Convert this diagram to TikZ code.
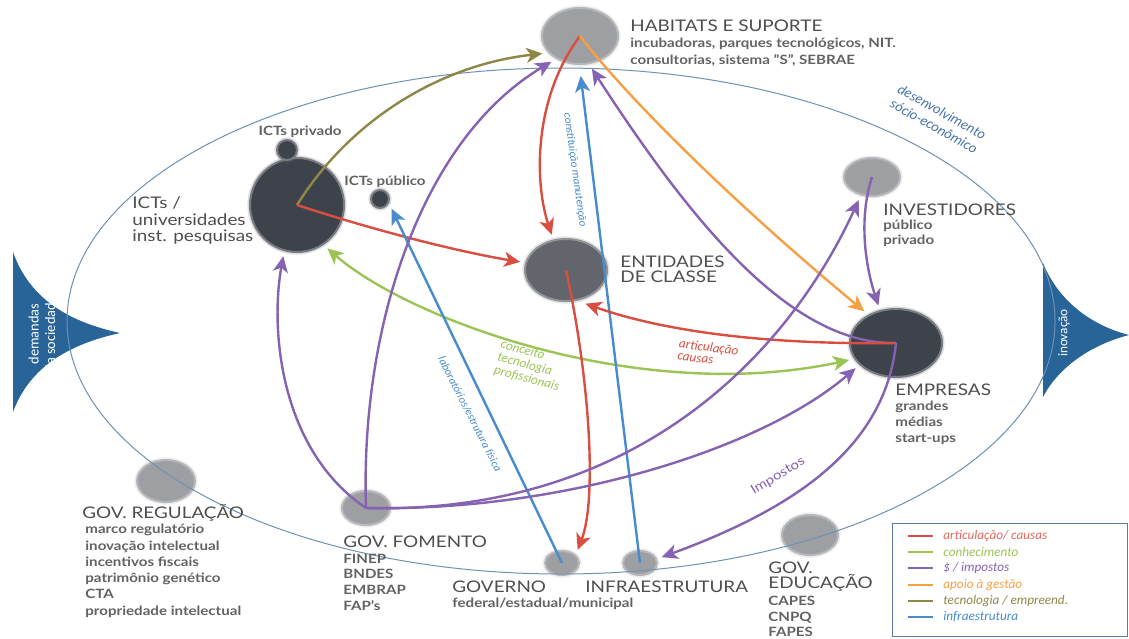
\documentclass[tikz,border=0pt]{standalone}
\usepackage{fontspec}
\setmainfont{Lato}[FakeStretch=1.18]
\newfontfamily\calib{Carlito}
\usetikzlibrary{shapes.geometric,arrows.meta}
\definecolor{cred}{RGB}{218,78,66}
\definecolor{cgreen}{RGB}{155,196,85}
\definecolor{cpurple}{RGB}{134,99,178}
\definecolor{corange}{RGB}{246,160,70}
\definecolor{colive}{RGB}{142,136,72}
\definecolor{cblue}{RGB}{72,140,205}
\definecolor{tri}{RGB}{40,100,152}
\definecolor{ring}{RGB}{110,145,180}
\definecolor{ringtxt}{RGB}{70,115,170}
\definecolor{cdark}{RGB}{62,66,74}
\definecolor{cmid}{RGB}{98,101,107}
\definecolor{clight}{RGB}{158,159,163}
\definecolor{txt}{RGB}{78,78,78}
\definecolor{subtxt}{RGB}{98,98,98}
\definecolor{legb}{RGB}{90,125,165}
\tikzset{
  blob/.style={ellipse, inner sep=0pt, outer sep=3pt, line width=1pt,
    preaction={draw, line width=2.6pt, draw opacity=0.25}},
  bdark/.style={blob, fill=cdark, draw=cdark!70!white},
  bmid/.style={blob, fill=cmid, draw=cmid!70!white},
  blight/.style={blob, fill=clight, draw=clight!75!white},
  conn/.style={line width=1.2pt, ->},
  >={Stealth[length=8pt,width=7.5pt,inset=2.2pt]},
  title/.style={font=\fontsize{8}{9.5}\selectfont, text=txt, anchor=base west, inner sep=0pt},
  sub/.style={font=\bfseries\fontsize{6.4}{8}\selectfont, text=subtxt, anchor=base west, inner sep=0pt},
  lbl/.style={font=\calib\itshape\fontsize{5.6}{6.5}\selectfont, inner sep=0pt},
  legtxt/.style={font=\calib\itshape\fontsize{6.6}{7.5}\selectfont, anchor=west, inner sep=0pt},
}
\begin{document}
\begin{tikzpicture}[x=0.5pt,y=-0.5pt]
\useasboundingbox (0,0) rectangle (1129,638);
\fill[white] (0,0) rectangle (1129,638);

% side triangles
\fill[tri] (13,252) .. controls (30,300) and (70,322) .. (120,333) .. controls (70,344) and (30,366) .. (13,412) -- cycle;
\fill[tri] (1043,263) .. controls (1058,300) and (1090,325) .. (1129,335) .. controls (1090,345) and (1058,368) .. (1043,397) -- cycle;
\node[white, rotate=90, align=center, font=\calib\fontsize{7.2}{8.2}\selectfont] (dem) at (42,334) {demandas\\da sociedade};
\node[white, rotate=90, font=\calib\fontsize{6.6}{7}\selectfont] (inov) at (1064,333) {inovação};

% blobs
\node[blight, minimum width=38pt, minimum height=28pt] (hab) at (580,36) {};
\node[bdark, minimum width=47pt, minimum height=47pt] (icts) at (297,205) {};
\node[bdark, minimum width=10pt, minimum height=10pt] (privado) at (287,150) {};
\node[bdark, minimum width=9pt, minimum height=9pt] (publico) at (380,199) {};
\node[bmid, minimum width=41pt, minimum height=31pt] (ent) at (566,270) {};
\node[blight, minimum width=28pt, minimum height=19pt] (inv) at (872,177) {};
\node[bdark, minimum width=46pt, minimum height=34pt] (emp) at (896,343) {};
\node[blight, minimum width=29pt, minimum height=21pt] (reg) at (166,481) {};
\node[blight, minimum width=24pt, minimum height=17pt] (fom) at (366,508) {};
\node[blight, minimum width=17pt, minimum height=12pt] (gov) at (562,563) {};
\node[blight, minimum width=17pt, minimum height=12pt] (infra) at (640,563) {};
\node[blight, minimum width=28pt, minimum height=20pt] (edu) at (810,535) {};

% outer ring
\draw[ring, line width=0.5pt] (561,321) ellipse [x radius=494, y radius=253];

% connectors
\draw[conn, colive] (icts.center) .. controls (350,120) and (440,65) .. (hab.205);
\draw[conn, cred] (icts.center) .. controls (380,232) and (460,252) .. (ent.170);
\draw[conn, cgreen, <->] (icts.-55) .. controls (410,320) and (640,405) .. (emp.200);
\draw[conn, cred] (hab.center) .. controls (532,100) and (535,185) .. (ent.112);
\draw[conn, corange] (hab.center) .. controls (625,95) and (730,200) .. (emp.135);
\draw[conn, cpurple] (emp.center) .. controls (790,345) and (690,220) .. (hab.-70);
\draw[conn, cblue, shorten >=3pt] (infra.center) -- (hab.-90);
\draw[conn, cblue] (gov.center) -- (publico.-40);
\draw[conn, cred] (ent.center) .. controls (590,380) and (597,500) .. (gov.40);
\draw[conn, cred] (emp.center) .. controls (760,345) and (660,330) .. (ent.-60);
\draw[conn, cpurple] (inv.center) .. controls (858,220) and (866,268) .. (emp.115);
\draw[conn, cpurple] (fom.center) .. controls (280,450) and (270,330) .. (icts.-105);
\draw[conn, cpurple] (fom.center) .. controls (360,330) and (420,140) .. (hab.222);
\draw[conn, cpurple] (fom.center) .. controls (640,515) and (790,350) .. (inv.-120);
\draw[conn, cpurple] (fom.center) .. controls (560,512) and (760,450) .. (emp.212);
\draw[conn, cpurple] (emp.center) .. controls (885,450) and (790,510) .. (infra.15);

% connector labels
\node[lbl, text=cblue, rotate=-82] (lblcm) at (575,170) {constituição manutenção};
\node[lbl, text=cblue, rotate=-63] (lbllab) at (470,414) {laboratórios/estrutura física};
\node[lbl, text=cgreen, rotate=-15, align=left, font=\calib\itshape\fontsize{6.6}{6.6}\selectfont] (lblcon) at (530,366) {conceito\\tecnologia\\profissionais};
\node[lbl, text=cred, rotate=-7, align=left, font=\calib\itshape\fontsize{6.6}{6}\selectfont] (lblart) at (708,353) {articulação\\causas};
\node[text=cpurple, rotate=31, inner sep=0pt, font=\fontsize{6.4}{7}\selectfont] (lblimp) at (778,476) {Impostos};
\node[text=ringtxt, rotate=-29, align=center, inner sep=0pt, font=\calib\itshape\fontsize{7.2}{8.2}\selectfont] (lbldes) at (938,119) {desenvolvimento\\sócio-econômico};

% node texts
\node[title] (habt) at (630,31) {HABITATS E SUPORTE};
\node[sub] (habs1) at (630,47) {incubadoras, parques tecnológicos, NIT.};
\node[sub] (habs2) at (630,64) {consultorias, sistema "S", SEBRAE};

\node[sub, anchor=base] (privt) at (300,135) {ICTs privado};
\node[sub, anchor=base] (publt) at (385,185) {ICTs público};
\node[title] (ictt1) at (132,208) {ICTs /};
\node[title] (ictt2) at (132,225) {universidades};
\node[title] (ictt3) at (132,241) {inst. pesquisas};

\node[title] (entt1) at (620,267) {ENTIDADES};
\node[title] (entt2) at (620,282) {DE CLASSE};

\node[title] (invt) at (883,215) {INVESTIDORES};
\node[sub] (invs1) at (883,229) {público};
\node[sub] (invs2) at (883,244) {privado};

\node[title] (empt) at (895,395) {EMPRESAS};
\node[sub] (emps1) at (895,410) {grandes};
\node[sub] (emps2) at (895,426) {médias};
\node[sub] (emps3) at (895,442) {start-ups};

\node[title] (regt) at (82,518) {GOV. REGULAÇÃO};
\node[sub] (regs1) at (85,533) {marco regulatório};
\node[sub] (regs2) at (85,550) {inovação intelectual};
\node[sub] (regs3) at (85,566) {incentivos fiscais};
\node[sub] (regs4) at (85,582) {patrimônio genético};
\node[sub] (regs5) at (85,598) {CTA};
\node[sub] (regs6) at (85,615) {propriedade intelectual};

\node[title] (fomt) at (343,547) {GOV. FOMENTO};
\node[sub] (foms1) at (343,563) {FINEP};
\node[sub] (foms2) at (343,578) {BNDES};
\node[sub] (foms3) at (343,594) {EMBRAP};
\node[sub] (foms4) at (343,610) {FAP's};

\node[title] (govt) at (452,592) {GOVERNO};
\node[sub] (govs) at (452,607) {federal/estadual/municipal};
\node[title] (infrat) at (585,592) {INFRAESTRUTURA};

\node[title] (edut1) at (768,573) {GOV.};
\node[title] (edut2) at (768,588) {EDUCAÇÃO};
\node[sub] (edus1) at (768,605) {CAPES};
\node[sub] (edus2) at (768,621) {CNPQ};
\node[sub] (edus3) at (768,636) {FAPES};

% legend
\node[draw=legb, line width=0.6pt, fill=white, minimum width=117.5pt, minimum height=56.5pt, anchor=north west, inner sep=0pt] (leg) at (892,523) {};
\draw[cred, line width=1pt] (908,536) -- (933,536);
\draw[cgreen, line width=1pt] (908,552) -- (933,552);
\draw[cpurple, line width=1pt] (908,568) -- (933,568);
\draw[corange, line width=1pt] (908,585) -- (933,585);
\draw[colive, line width=1pt] (908,601) -- (933,601);
\draw[cblue, line width=1pt] (908,617) -- (933,617);
\node[legtxt, text=cred!85!white] (l1) at (943,536) {articulação/ causas};
\node[legtxt, text=cgreen] (l2) at (943,552) {conhecimento};
\node[legtxt, text=cpurple] (l3) at (943,568) {\$ / impostos};
\node[legtxt, text=corange] (l4) at (943,585) {apoio à gestão};
\node[legtxt, text=colive] (l5) at (943,601) {tecnologia / empreend.};
\node[legtxt, text=cblue] (l6) at (943,617) {infraestrutura};
\end{tikzpicture}
\end{document}
